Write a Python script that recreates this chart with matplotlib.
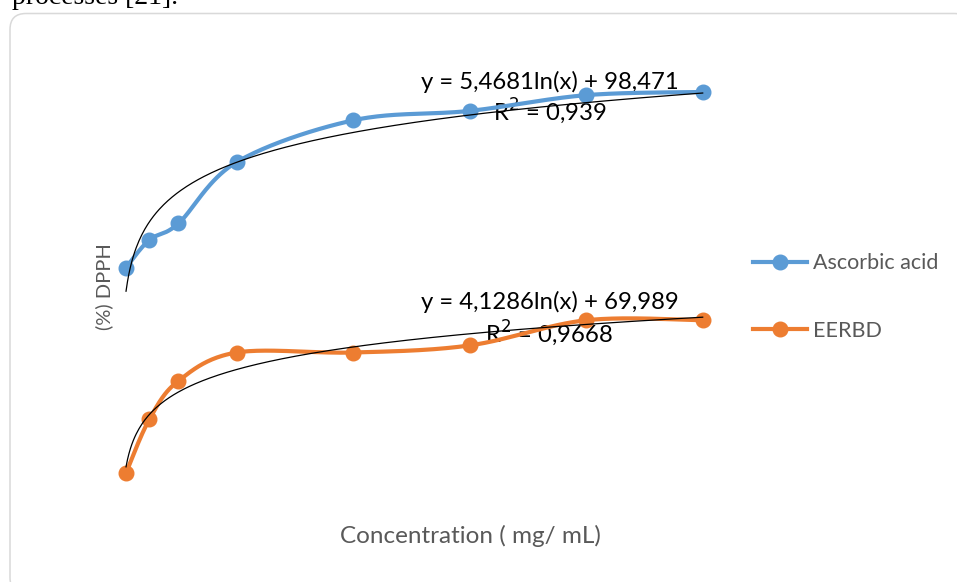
import numpy as np
import matplotlib
matplotlib.use("Agg")
import matplotlib.pyplot as plt
from matplotlib.patches import FancyBboxPatch
from matplotlib.lines import Line2D

# Concentration (mg/mL) and DPPH scavenging (%)
concentration = [0.01, 0.05, 0.1, 0.2, 0.4, 0.6, 0.8, 1.0]
ascorbic_acid = [76.3, 79.8, 81.9, 89.7, 95.0, 96.2, 98.2, 98.6]
eerbd = [50.2, 57.0, 61.9, 65.5, 65.5, 66.4, 69.6, 69.6]
series_names = ["Ascorbic acid", "EERBD"]

# Logarithmic trendlines: y = a*ln(x) + b
trend_ascorbic = (5.4681, 98.471, 0.939)
trend_eerbd = (4.1286, 69.989, 0.9668)

BLUE = "#5B9BD5"
ORANGE = "#ED7D31"
GREY = "#595959"

W, H = 957, 582
plt.rcParams["font.family"] = ["Lato", "DejaVu Sans"]

fig = plt.figure(figsize=(W / 100, H / 100), dpi=100)
fig.patch.set_facecolor("white")

# Full-figure canvas in pixel units for the frame and caption text
bg = fig.add_axes([0, 0, 1, 1], zorder=0)
bg.set_xlim(0, W)
bg.set_ylim(H, 0)
bg.axis("off")
frame = FancyBboxPatch((10, 13.5), 960, 580, boxstyle="round,pad=0,rounding_size=16",
                       facecolor="white", edgecolor="#D9D9D9", lw=1.1)
bg.add_patch(frame)
bg.text(12, 4, "processes [21].", family="Liberation Serif", fontsize=20,
        color="black", va="baseline", ha="left")

# Plot area
ax = fig.add_axes([120.2 / W, 1 - 553.2 / H, 582.5 / W, (553.2 - 2.28) / H], zorder=2)
ax.set_xlim(0, 1)
ax.set_ylim(40, 110)
ax.patch.set_alpha(0)
for s in ax.spines.values():
    s.set_visible(False)
ax.set_xticks([])
ax.set_yticks([])

sx, sy = 582.5, 7.87  # display scale used for the smoothing


def smooth(xs, ys, n=40):
    p = np.column_stack([np.asarray(xs) * sx, np.asarray(ys) * sy])
    ext = np.vstack([p[0], p, p[-1]])
    out = []
    for i in range(len(p) - 1):
        p0, p1, p2, p3 = ext[i], ext[i + 1], ext[i + 2], ext[i + 3]
        c1 = p1 + (p2 - p0) / 6
        c2 = p2 - (p3 - p1) / 6
        t = np.linspace(0, 1, n)[:, None]
        seg = (1 - t) ** 3 * p1 + 3 * (1 - t) ** 2 * t * c1 + 3 * (1 - t) * t ** 2 * c2 + t ** 3 * p2
        out.append(seg if i == 0 else seg[1:])
    out = np.vstack(out)
    return out[:, 0] / sx, out[:, 1] / sy


for vals, col in [(ascorbic_acid, BLUE), (eerbd, ORANGE)]:
    xs, ys = smooth(concentration, vals)
    ax.plot(xs, ys, color=col, lw=3.0, solid_capstyle="round", zorder=3, clip_on=False)
    ax.plot(concentration, vals, "o", color=col, ms=10.5, zorder=4, clip_on=False)

xt = np.linspace(concentration[0], concentration[-1], 400)
for a, b, r2 in [trend_ascorbic, trend_eerbd]:
    ax.plot(xt, a * np.log(xt) + b, color="black", lw=0.9, zorder=5, clip_on=False)


def fmt(v):
    return f"{v:g}".replace(".", ",")


eq_pos = [(549.5, 81.5, 111.5), (549.5, 301.5, 333)]
for (a, b, r2), (cx, ey, ry) in zip([trend_ascorbic, trend_eerbd], eq_pos):
    bg.text(cx, ey, f"y = {fmt(a)}ln(x) + {fmt(b)}", fontsize=17.2, color="black",
            ha="center", va="center", zorder=10)
    bg.text(cx, ry, f"R$^2$ = {fmt(r2)}", fontsize=17.2, color="black",
            ha="center", va="center", zorder=10)

# Axis titles
fig.text(470.7 / W, 1 - 536 / H, "Concentration ( mg/ mL)", fontsize=17.5, color=GREY,
         ha="center", va="center")
fig.text(104.5 / W, 1 - 287 / H, "(%) DPPH", fontsize=14.5, color=GREY,
         ha="center", va="center", rotation=90)

# Legend
handles = [Line2D([], [], color=BLUE, lw=3.0, marker="o", ms=10.5),
           Line2D([], [], color=ORANGE, lw=3.0, marker="o", ms=10.5)]
leg = ax.legend(handles, series_names, loc="center left",
                bbox_to_anchor=(742 / W, 1 - 297 / H), bbox_transform=fig.transFigure,
                frameon=False, fontsize=15.5, handlelength=2.5, handletextpad=0.3,
                labelspacing=2.2, borderpad=0)
for t in leg.get_texts():
    t.set_color(GREY)

fig.savefig("out.png", dpi=100, facecolor="white")
